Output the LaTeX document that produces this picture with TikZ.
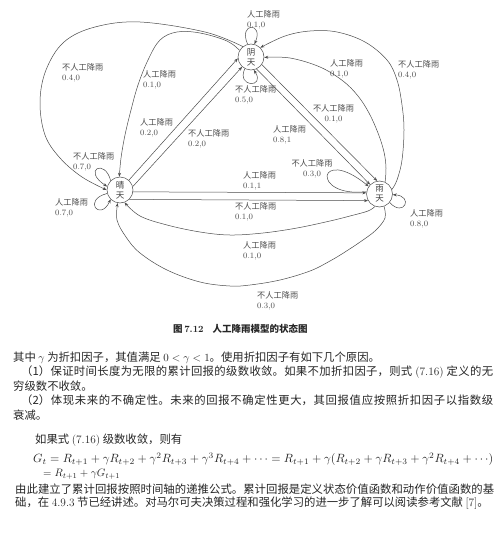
\documentclass[tikz,border=0pt]{standalone}
\usepackage{fontspec}
\newfontfamily\cjk{Noto Sans CJK SC}
\usetikzlibrary{arrows.meta}
\begin{document}
\begin{tikzpicture}[x=1pt,y=-1pt,
  st/.style={circle,draw=black!70,line width=0.5pt,minimum size=26pt,inner sep=0pt,align=center,
    font=\cjk\fontsize{8.5}{10}\selectfont,text=black!75},
  arr/.style={draw=black!70,line width=0.5pt,-{Stealth[length=4pt,width=3pt]}},
  lab/.style={anchor=north west,inner sep=0pt,align=left,font=\fontsize{8.2}{10}\selectfont,text=black!70},
  body/.style={anchor=west,inner sep=0pt,font=\cjk\fontsize{11.35}{14}\selectfont,text=black!85},
  eqn/.style={anchor=west,inner sep=0pt,text=black!85},
  smoothcurve/.style={smooth,tension=0.6}
]
\useasboundingbox[fill=white] (0,0) rectangle (501,535);

% states
\node[st] (cloudy) at (251,57) {阴\\天};
\node[st] (sunny) at (120,190) {晴\\天};
\node[st] (rainy) at (379.5,194) {雨\\天};

% sunny -> cloudy (straight pair)
\draw[arr] (sunny.48) -- (cloudy.186);
\draw[arr] (sunny.15) -- (cloudy.228);
% cloudy -> rainy (straight pair)
\draw[arr] (cloudy.-35) -- (rainy.100);
\draw[arr] (cloudy.-65) -- (rainy.135);
% sunny -> rainy (straight pair)
\draw[arr] (sunny.-8) -- (rainy.175);
\draw[arr] (sunny.-45) -- (rainy.-150);

% cloudy self loops
\draw[arr] (cloudy.105) .. controls (238,22) and (264,22) .. (cloudy.75);
\draw[arr] (cloudy.-118) .. controls (236,88) and (266,88) .. (cloudy.-78);

% cloudy -> sunny curves
\draw[arr] plot[smoothcurve] coordinates {(cloudy.128) (205,32) (140,22) (95,27) (64,42) (46,70) (40,102) (45,135) (60,158) (82,177) (sunny.180)};
\draw[arr] plot[smoothcurve] coordinates {(cloudy.150) (227,41) (200,33) (177,32) (160,40) (148,60) (138,85) (131,110) (125,135) (121,158) (sunny.93)};

% rainy -> cloudy curves
\draw[arr] plot[smoothcurve] coordinates {(rainy.65) (386,168) (384,152) (378,133) (369,113) (358,96) (343,81) (320,67) (290,58) (cloudy.-2)};
\draw[arr] plot[smoothcurve] coordinates {(rainy.20) (397,180) (402,160) (404,130) (402,105) (397,80) (387,60) (365,42) (337,32) (310,31) (285,36) (cloudy.45)};

% rainy self loops
\draw[arr] (rainy.-40) .. controls (404,218) and (414,196) .. (rainy.-3);
\draw[arr] (rainy.170) .. controls (310,198) and (318,145) .. (rainy.145);

% rainy -> sunny curves
\draw[arr] plot[smoothcurve] coordinates {(rainy.-110) (368,211) (350,216) (330,221) (297,228) (263,233) (230,235) (200,232) (167,225) (140,216) (sunny.-70)};
\draw[arr] plot[smoothcurve] coordinates {(rainy.-70) (385,218) (376,230) (363,240) (345,252) (330,261) (310,271) (280,280) (250,285) (230,286) (200,282) (167,270) (140,253) (126,237) (117,220) (sunny.-100)};

% sunny self loops
\draw[arr] (sunny.135) .. controls (105,158) and (82,170) .. (sunny.165);
\draw[arr] (sunny.195) .. controls (82,200) and (100,222) .. (sunny.225);

% labels
\node[lab] (l01) at (247,10.5) {{\cjk 人工降雨}\\0.1,0};
\node[lab] (l02) at (235,85) {{\cjk 不人工降雨}\\0.5,0};
\node[lab] (l03) at (62,63) {{\cjk 不人工降雨}\\0.4,0};
\node[lab] (l04) at (143,70) {{\cjk 人工降雨}\\0.1,0};
\node[lab] (l05) at (140,118) {{\cjk 人工降雨}\\0.2,0};
\node[lab] (l06) at (188,129) {{\cjk 不人工降雨}\\0.2,0};
\node[lab] (l07) at (330,59) {{\cjk 人工降雨}\\0.1,0};
\node[lab] (l08) at (398,60) {{\cjk 不人工降雨}\\0.4,0};
\node[lab,align=center,anchor=north] (l09) at (333.5,104) {{\cjk 不人工降雨}\\0.1,0};
\node[lab] (l10) at (273,125) {{\cjk 人工降雨}\\0.8,1};
\node[lab,align=center,anchor=north] (l11) at (312,159) {{\cjk 不人工降雨}\\0.3,0};
\node[lab] (l12) at (243,171) {{\cjk 人工降雨}\\0.1,1};
\node[lab] (l13) at (235,202) {{\cjk 不人工降雨}\\0.1,0};
\node[lab] (l14) at (410,209) {{\cjk 人工降雨}\\0.8,0};
\node[lab] (l15) at (243,241) {{\cjk 人工降雨}\\0.1,0};
\node[lab] (l16) at (257,291) {{\cjk 不人工降雨}\\0.3,0};
\node[lab] (l17) at (73,152) {{\cjk 不人工降雨}\\0.7,0};
\node[lab] (l18) at (55,198) {{\cjk 人工降雨}\\0.7,0};

% caption
\node[anchor=west,inner sep=0pt,font=\cjk\bfseries\fontsize{9.5}{11}\selectfont,text=black!85] (cap) at (173,329)
  {图\,{\rmfamily\bfseries 7.12}\hspace{9pt}人工降雨模型的状态图};

% body text
\node[body] (t1) at (13,358) {其中 $\gamma$ 为折扣因子，其值满足 $0<\gamma<1$。使用折扣因子有如下几个原因。};
\node[body] (t2) at (21,372) {\parbox{472pt}{\XeTeXlinebreaklocale "zh"\XeTeXlinebreakskip=0pt plus 1pt\relax\parfillskip=0pt\relax （1）保证时间长度为无限的累计回报的级数收敛。如果不加折扣因子，则式 {\rmfamily (7.16)} 定义的无}};
\node[body] (t3) at (13,386) {穷级数不收敛。};
\node[body] (t4) at (21,400) {\parbox{472pt}{\XeTeXlinebreaklocale "zh"\XeTeXlinebreakskip=0pt plus 1pt\relax\parfillskip=0pt\relax （2）体现未来的不确定性。未来的回报不确定性更大，其回报值应按照折扣因子以指数级}};
\node[body] (t5) at (13,415) {衰减。};
\node[body] (t6) at (35,440) {如果式 {\rmfamily (7.16)} 级数收敛，则有};
\node[eqn] (t7) at (33,459) {\resizebox{460pt}{!}{$G_t = R_{t+1} + \gamma R_{t+2} + \gamma^2 R_{t+3} + \gamma^3 R_{t+4} + \cdots = R_{t+1} + \gamma(R_{t+2} + \gamma R_{t+3} + \gamma^2 R_{t+4} + \cdots)$}};
\node[eqn] (t8) at (43,474) {\resizebox{77pt}{!}{$= R_{t+1} + \gamma G_{t+1}$}};
\node[body] (t9) at (15,489) {\parbox{479pt}{\XeTeXlinebreaklocale "zh"\XeTeXlinebreakskip=0pt plus 1pt\relax\parfillskip=0pt\relax 由此建立了累计回报按照时间轴的递推公式。累计回报是定义状态价值函数和动作价值函数的基}};
\node[body] (t10) at (15,503) {础，在 {\rmfamily 4.9.3} 节已经讲述。对马尔可夫决策过程和强化学习的进一步了解可以阅读参考文献 {\rmfamily [7]}。};
\end{tikzpicture}
\end{document}
